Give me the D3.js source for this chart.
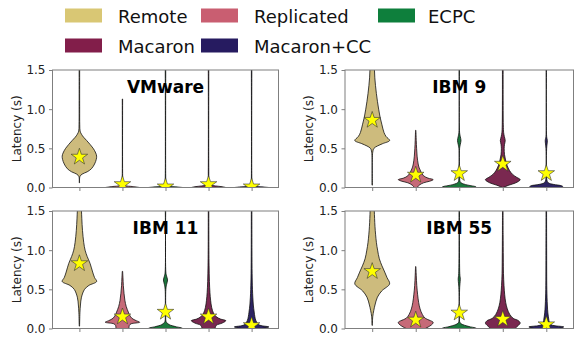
<meta charset="utf-8">
<script src="https://d3js.org/d3.v7.min.js"></script>
<style>
  body { margin: 0; background: #fff; }
  text { font-family: "DejaVu Sans", sans-serif; }
  .spine { fill: none; stroke: #7f7f7f; stroke-width: 1px; }
  .tick line { stroke: #7f7f7f; }
  .tick text { fill: #222; font-size: 12px; }
  .violin { stroke: #111; stroke-width: 0.8px; }
  .star { fill: #ffff00; stroke: #333; stroke-width: 0.6px; }
</style>
<body>
<script>
  var series = ['Remote', 'Replicated', 'ECPC', 'Macaron', 'Macaron+CC'];
  var legendColors = ['#d9c774', '#c95e71', '#0e7f3c', '#821e4a', '#261b60'];
  var violinColors = ['#cdbb7d', '#c66a78', '#1b783c', '#7a2850', '#2d2463'];
  var panels = ['VMware', 'IBM 9', 'IBM 11', 'IBM 55'];
  var yTicks = [0, 0.5, 1.0, 1.5];

  // mean latency (stars), one row per panel
  var meanVMware = [0.39, 0.04, 0.01, 0.04, 0.01];
  var meanIBM9 = [0.86, 0.16, 0.18, 0.30, 0.18];
  var meanIBM11 = [0.83, 0.15, 0.21, 0.15, 0.04];
  var meanIBM55 = [0.73, 0.11, 0.20, 0.12, 0.05];

  // violin outlines: [latency, relative half width]
  var shapeVMware = [
    [[0.06,0.01],[0.14,0.03],[0.17,0.15],[0.2,0.45],[0.24,0.7],[0.3,0.88],[0.36,0.98],[0.4,1],[0.44,0.95],[0.5,0.8],[0.55,0.62],[0.6,0.42],[0.64,0.25],[0.68,0.12],[0.72,0.04],[0.8,0.02],[1.0,0.015],[1.6,0.015]],
    [[0,1],[0.012,0.6],[0.025,0.15],[0.05,0.03],[0.1,0.015],[1.13,0.01]],
    [[0,1],[0.008,0.6],[0.015,0.2],[0.03,0.03],[0.1,0.015],[1.6,0.015]],
    [[0,1],[0.01,0.8],[0.02,0.4],[0.035,0.1],[0.06,0.03],[0.2,0.015],[1.6,0.015]],
    [[0,1],[0.008,0.6],[0.015,0.2],[0.03,0.03],[0.1,0.015],[1.6,0.015]]
  ];
  var shapeIBM9 = [
    [[0.03,0.01],[0.45,0.03],[0.5,0.1],[0.53,0.3],[0.56,0.6],[0.6,1],[0.65,0.8],[0.7,0.68],[0.8,0.56],[0.9,0.45],[1.0,0.37],[1.1,0.3],[1.2,0.24],[1.3,0.19],[1.4,0.15],[1.5,0.13],[1.6,0.11]],
    [[0,0.08],[0.03,0.2],[0.06,0.45],[0.08,0.8],[0.1,1],[0.12,0.7],[0.15,0.45],[0.2,0.3],[0.25,0.2],[0.3,0.14],[0.4,0.08],[0.5,0.05],[0.6,0.03],[0.73,0.01]],
    [[0,1],[0.01,0.95],[0.02,0.75],[0.03,0.5],[0.045,0.25],[0.06,0.1],[0.08,0.04],[0.15,0.02],[0.5,0.02],[0.55,0.06],[0.6,0.1],[0.65,0.06],[0.7,0.02],[1.6,0.015]],
    [[0,0.02],[0.03,0.35],[0.06,0.75],[0.1,1],[0.13,0.8],[0.17,0.55],[0.22,0.38],[0.28,0.25],[0.35,0.16],[0.42,0.1],[0.5,0.08],[0.55,0.1],[0.6,0.14],[0.65,0.09],[0.7,0.05],[0.8,0.03],[1.6,0.02]],
    [[0,1],[0.02,0.9],[0.04,0.4],[0.06,0.12],[0.1,0.03],[0.5,0.02],[0.6,0.06],[0.65,0.02],[1.6,0.015]]
  ];
  var shapeIBM11 = [
    [[0.03,0.01],[0.2,0.03],[0.3,0.06],[0.4,0.12],[0.5,0.3],[0.55,0.55],[0.6,1],[0.65,0.88],[0.72,0.77],[0.83,0.62],[0.92,0.45],[1.0,0.33],[1.1,0.25],[1.25,0.18],[1.4,0.14],[1.5,0.12],[1.6,0.1]],
    [[0,0.38],[0.04,0.4],[0.06,0.5],[0.08,1],[0.1,0.8],[0.13,0.55],[0.17,0.42],[0.21,0.34],[0.28,0.22],[0.36,0.14],[0.45,0.09],[0.55,0.05],[0.65,0.03],[0.73,0.01]],
    [[0,1],[0.01,0.9],[0.02,0.65],[0.035,0.4],[0.05,0.2],[0.07,0.1],[0.09,0.03],[0.2,0.015],[0.5,0.02],[0.56,0.06],[0.62,0.12],[0.67,0.06],[0.72,0.02],[1.6,0.015]],
    [[0,0.38],[0.04,0.45],[0.07,0.8],[0.1,1],[0.12,0.7],[0.15,0.45],[0.19,0.3],[0.27,0.18],[0.36,0.12],[0.46,0.08],[0.6,0.05],[0.8,0.03],[1.0,0.02],[1.6,0.015]],
    [[0,0.6],[0.02,1],[0.035,0.6],[0.05,0.4],[0.1,0.25],[0.15,0.19],[0.21,0.15],[0.3,0.1],[0.4,0.07],[0.5,0.05],[0.7,0.03],[1.0,0.02],[1.6,0.015]]
  ];
  var shapeIBM55 = [
    [[0.04,0.01],[0.15,0.03],[0.23,0.09],[0.3,0.16],[0.4,0.3],[0.48,0.55],[0.57,1],[0.65,0.85],[0.72,0.72],[0.8,0.56],[0.89,0.41],[1.0,0.31],[1.1,0.24],[1.3,0.16],[1.5,0.12],[1.6,0.1]],
    [[0,0.55],[0.03,0.8],[0.06,0.97],[0.08,1],[0.1,0.85],[0.13,0.55],[0.18,0.38],[0.25,0.25],[0.33,0.17],[0.43,0.11],[0.55,0.06],[0.68,0.03],[0.79,0.01]],
    [[0,1],[0.01,0.9],[0.02,0.65],[0.035,0.4],[0.05,0.2],[0.07,0.06],[0.09,0.02],[0.5,0.02],[0.57,0.04],[0.63,0.06],[0.7,0.03],[1.6,0.015]],
    [[0,0.7],[0.04,0.9],[0.07,1],[0.1,0.9],[0.13,0.6],[0.18,0.4],[0.25,0.26],[0.33,0.17],[0.43,0.11],[0.55,0.07],[0.7,0.04],[0.9,0.03],[1.2,0.02],[1.6,0.015]],
    [[0,0.7],[0.02,1],[0.035,0.5],[0.05,0.25],[0.08,0.17],[0.12,0.14],[0.2,0.09],[0.3,0.06],[0.5,0.03],[1.0,0.02],[1.6,0.015]]
  ];

  var means = [meanVMware, meanIBM9, meanIBM11, meanIBM55];
  var shapes = [shapeVMware, shapeIBM9, shapeIBM11, shapeIBM55];

  var width = 580, height = 337;
  var boxes = [
    {x0: 52.5, x1: 278.5, y0: 70, y1: 187.5},
    {x0: 345, x1: 573.5, y0: 70, y1: 187.5},
    {x0: 52.5, x1: 278.5, y0: 211, y1: 328.5},
    {x0: 345, x1: 573.5, y0: 211, y1: 328.5}
  ];

  var svg = d3.select('body').append('svg')
    .attr('width', width)
    .attr('height', height);

  // legend
  var legendCols = [65, 201, 378];
  var legendRows = [8.5, 38.5];
  var leg = svg.selectAll('g.legend').data(series)
    .enter()
    .append('g')
    .attr('class', 'legend')
    .attr('transform', function(d, i) {
      return 'translate(' + legendCols[i % 3] + ',' + legendRows[Math.floor(i / 3)] + ')';
    });
  leg.append('rect')
    .attr('width', 37).attr('height', 14)
    .attr('fill', function(d, i) { return legendColors[i]; });
  leg.append('text')
    .attr('x', function(d, i) { return i % 3 == 2 ? 50 : 53; })
    .attr('y', 14)
    .style('font-size', '18px')
    .attr('fill', '#111')
    .text(function(d) { return d; });

  var positions = d3.range(1, series.length + 1);

  panels.forEach(function(name, p) {
    var b = boxes[p];
    var x = d3.scaleLinear().domain([0.375, 5.625]).range([b.x0, b.x1]);
    var y = d3.scaleLinear().domain([0, 1.5]).range([b.y1, b.y0]);
    var halfW = x(1.4) - x(1);

    var g = svg.append('g');

    g.append('clipPath').attr('id', 'clip' + p)
      .append('rect')
      .attr('x', b.x0).attr('y', b.y0)
      .attr('width', b.x1 - b.x0).attr('height', b.y1 - b.y0);

    var plot = g.append('g').attr('clip-path', 'url(#clip' + p + ')');

    plot.selectAll('path.violin').data(shapes[p])
      .enter()
      .append('path')
      .attr('class', 'violin')
      .attr('fill', function(d, i) { return violinColors[i]; })
      .attr('d', function(d, i) {
        var cx = x(positions[i]);
        return d3.area()
          .curve(d3.curveCatmullRom)
          .y(function(v) { return y(v[0]); })
          .x0(function(v) { return cx - v[1] * halfW; })
          .x1(function(v) { return cx + v[1] * halfW; })(d);
      });

    plot.selectAll('path.star').data(means[p])
      .enter()
      .append('path')
      .attr('class', 'star')
      .attr('transform', function(d, i) { return 'translate(' + x(positions[i]) + ',' + y(d) + ')'; })
      .attr('d', d3.symbol().type(d3.symbolStar).size(85));

    g.append('text')
      .attr('x', (b.x0 + b.x1) / 2)
      .attr('y', b.y0 + 23)
      .attr('text-anchor', 'middle')
      .style('font-size', '17px')
      .style('font-weight', 'bold')
      .attr('fill', '#000')
      .text(name);

    var yAxis = g.append('g')
      .attr('transform', 'translate(' + b.x0 + ',0)')
      .call(d3.axisLeft(y).tickValues(yTicks).tickFormat(d3.format('.1f')).tickSize(3.5).tickPadding(3.5));
    yAxis.select('.domain').remove();

    var xAxis = g.append('g')
      .attr('transform', 'translate(0,' + b.y1 + ')')
      .call(d3.axisBottom(x).tickValues(positions).tickFormat('').tickSize(3.5));
    xAxis.select('.domain').remove();

    g.append('rect')
      .attr('class', 'spine')
      .attr('x', b.x0).attr('y', b.y0)
      .attr('width', b.x1 - b.x0).attr('height', b.y1 - b.y0);

    g.append('text')
      .attr('transform', 'translate(' + (b.x0 - 32) + ',' + ((b.y0 + b.y1) / 2) + ') rotate(-90)')
      .attr('text-anchor', 'middle')
      .style('font-size', '12px')
      .attr('fill', '#222')
      .text('Latency (s)');
  });
</script>
</body>
</html>
